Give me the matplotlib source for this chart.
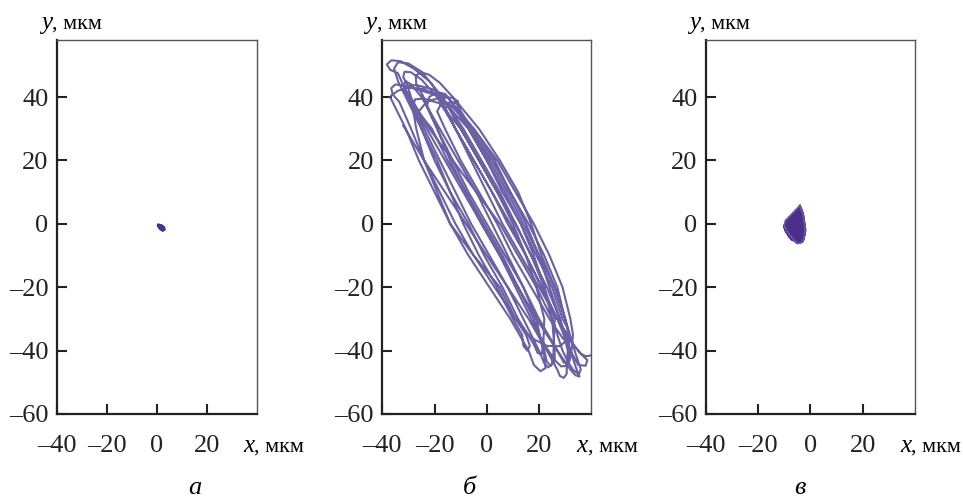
import numpy as np
import matplotlib.pyplot as plt

plt.rcParams['font.family'] = ['Liberation Serif', 'DejaVu Serif']

# panel a: almost no motion, a tiny knot near the origin
a_x = [0.6, 1.8, 2.7, 2.9, 2.2, 1.2, 0.7, 1.6, 2.6, 2.4, 1.4, 0.9]
a_y = [-0.4, -0.6, -1.1, -1.8, -2.0, -1.4, -0.8, -0.9, -1.5, -1.9, -1.2, -0.6]

# panel b: long back-and-forth orbit along the diagonal
b_x = [-32, -24, -16, -8, 0, 8, 16, 23, 27, 28, 29.5, 30.6, 30.6,
       31, 28, 23, 17, 11, 4, -3, -10, -17, -22, -28, -33, -36.5, -38.3, -37, -34,
       -30, -24, -18, -12, -6, 1, 8, 14, 20, 22, 23.5, 25, 25.5,
       26, 22, 17, 11, 5, -2, -9, -17, -25, -31, -35, -36.6, -36, -33.5,
       -29, -24, -18, -12, -5, 3, 11, 17, 23, 28, 30.5, 31,
       30, 27, 22, 16, 9, 2, -6, -11, -11, -13, -18, -23, -26.5,
       -23, -16, -9, -2, 5, 11, 17, 22, 26, 28.5, 30.5, 31.5,
       31.5, 30, 26, 20, 14, 8, 1, -6, -13, -18, -22, -25, -27.2, -27, -24.5,
       -19, -13, -7, 0, 7, 14, 20, 27, 32, 34, 35.5, 34.2,
       32, 27, 21, 15, 8, 2, -5, -12, -19, -25, -29, -31.5, -32, -30.5,
       -29, -27, -24, -19, -14, -5, 5, 11, 15, 16.5, 15.5, 14, 13.5,
       10, 4, -3, -9, -14, -19, -25, -31, -34, -35.5, -34, -30, -25, -21,
       -18, -12, -5, 2, 9, 15, 21, 27, 33, 36, 38.5, 37.8, 35,
       32, 28, 24, 20, 15, 9, 3, -5, -13, -16, -19.5, -22, -23,
       -19, -14, -8, -1, 6, 12, 18, 22, 23, 24.5, 26, 26,
       25, 22, 18, 13, 7, 0, -7, -15, -21, -27, -31, -32, -30,
       -25, -20, -14, -7, -1, 6, 12, 18, 19.5, 21, 21.6,
       22, 19, 15, 10, 4, -3, -10, -18, -24, -27.5, -28, -26,
       -21, -15, -8, -2, 5, 12, 19, 27, 29.5, 31.5, 32.3,
       33, 32, 29, 24, 18, 11, 4, -5, -11, -13.5, -15, -17.5, -19,
       -16, -10, -3, 4, 10, 17, 24, 29, 30.8, 31.6, 31,
       29, 25, 19, 13, 6, 0, -7, -18, -24, -30, -34, -36.5,
       -37, -31, -26, -20, -14, -7, 1, 9, 16, 18, 20.5, 22.5, 22,
       19, 14, 8, 2, -4, -11, -18, -25, -29, -31, -32, -30,
       -22, -13, -4, 5, 12, 19, 25, 29, 31, 33, 35.2,
       36, 34, 30, 26, 21, 17, 12, 5, -3, -9, -11, -14, -16,
       -12, -6, 0, 6, 13, 20, 27, 33, 36, 38, 40]
b_y = [31, 20, 10, 0, -10, -20, -30, -40, -46, -48, -48.6, -47.3, -44.5,
       -40, -30, -20, -10, 0, 10, 20, 30, 40, 45, 49, 51.3, 51.6, 50.3, 48.6, 47.5,
       40, 30, 20, 10, 0, -10, -20, -30, -40, -44, -45.3, -44.2, -41,
       -30, -20, -10, 0, 10, 20, 30, 40, 42, 43.5, 44, 42.8, 40.8, 38.5,
       30, 20, 10, 0, -10, -20, -30, -36, -38.5, -38.6, -36.8, -33.5,
       -30, -20, -10, 0, 10, 20, 30, 36, 38.6, 39.8, 39.8, 38.5, 35,
       30, 20, 10, 0, -10, -20, -30, -38, -43, -45, -44.8, -42.5,
       -35, -30, -20, -10, 0, 10, 20, 30, 40, 44.5, 47, 47.8, 46.8, 44, 40.5,
       30, 20, 10, 0, -10, -20, -30, -40, -46, -47.8, -48.2, -45.5,
       -40, -30, -20, -10, 0, 10, 20, 30, 40, 45.5, 47.8, 48, 46.3, 44,
       40, 30, 20, 10, 0, -10, -20, -30, -35, -38.5, -40, -38.5, -35,
       -30, -20, -10, 0, 10, 20, 30, 40, 45, 49, 51, 50.6, 48, 44,
       40, 30, 20, 10, 0, -10, -20, -30, -38, -41, -43, -44.8, -44.5,
       -40, -30, -20, -10, 0, 10, 20, 30, 38, 41, 41.5, 40, 37,
       30, 20, 10, 0, -10, -20, -30, -40, -43.5, -44.8, -43, -40,
       -30, -20, -10, 0, 10, 20, 30, 40, 42.5, 43.8, 43.5, 42, 39.8,
       30, 20, 10, 0, -10, -20, -30, -38, -40.8, -41, -39,
       -30, -20, -10, 0, 10, 20, 30, 38, 39.5, 39.3, 37.5, 35,
       30, 20, 10, 0, -10, -20, -30, -40, -43.8, -43.8, -41,
       -35, -30, -20, -10, 0, 10, 20, 30, 35, 37, 38.2, 37.8, 35.5,
       30, 20, 10, 0, -10, -20, -30, -36, -37.5, -36, -33,
       -30, -20, -10, 0, 10, 20, 30, 40, 42.5, 43, 42, 40.5,
       40, 30, 20, 10, 0, -10, -20, -30, -40, -44.5, -46.5, -45.5, -42,
       -30, -20, -10, 0, 10, 20, 30, 40, 44, 45, 43.5, 41,
       30, 20, 10, 0, -10, -20, -30, -40, -43.5, -46, -47.5,
       -46, -41, -30, -20, -10, 0, 10, 20, 30, 36, 38, 38.5, 36.5,
       30, 20, 10, 0, -10, -20, -30, -38, -41, -41.8, -41.5]

# panel c: small dense blob left of the origin
c_edge_x = [-4, -2.8, -2.2, -2.0, -2.6, -3.5, -5, -7, -9, -10, -9.6, -7.5, -5.5]
c_edge_y = [5.8, 3, 0, -2.5, -5, -6, -6.2, -4.5, -2.2, -0.6, 1, 2.8, 4.5]
c_x = [-4, -3, -2.5, -2.2, -3, -5, -8, -10, -9, -6, -4, -3, -2.5, -4.5, -7,
       -9.5, -8, -5, -3, -2, -2.8, -4, -6, -9, -9.8, -7.5, -5, -3.5, -4.2,
       -6.5, -8.5, -6, -3.2, -2.4, -3.5, -5.5, -7.5, -8.8, -6.8, -4.5, -3.8]
c_y = [5.5, 3, 0, -3, -5.5, -6, -4, -1, 1, 3, 5, 2, -1, -4.5, -5, -2, 0.5,
       2, 3.5, -2, -5, -5.8, -5.2, -2.5, -0.5, 2.2, 4, 4.5, 1, -2, -3, -4.8,
       -4, -1, 2, 3, 1, -1.5, -3.5, -5, -3]

xticks = [-40, -20, 0, 20]
yticks = [-60, -40, -20, 0, 20, 40]
panels = ['а', 'б', 'в']
color = '#5a4f9c'
blob = '#4a2f8c'

fig = plt.figure(figsize=(9.63, 5), dpi=100)
lefts = [0.059, 0.397, 0.733]
widths = [0.208, 0.217, 0.217]
sub_x = [0.2025, 0.488, 0.831]


def fmt(v):
    return '\u2013' + str(-v) if v < 0 else str(v)


for i in range(3):
    ax = fig.add_axes([lefts[i], 0.172, widths[i], 0.748])
    if i == 0:
        ax.plot(a_x, a_y, color=blob, lw=2.2, solid_joinstyle='round')
    elif i == 1:
        ax.plot(b_x, b_y, color=color, lw=1.5, alpha=0.9,
                solid_joinstyle='round')
    else:
        ax.fill(c_edge_x, c_edge_y, color=blob, lw=0)
        ax.plot(c_x, c_y, color=blob, lw=2.0, solid_joinstyle='round')
        ax.plot(c_edge_x + c_edge_x[:1], c_edge_y + c_edge_y[:1],
                color='#6a5aa8', lw=1.2)
    ax.set_xlim(-40, 40)
    ax.set_ylim(-60, 58)
    ax.set_xticks(xticks)
    ax.set_yticks(yticks)
    ax.set_xticklabels([fmt(v) for v in xticks])
    ax.set_yticklabels([fmt(v) for v in yticks])
    ax.tick_params(direction='in', length=7, width=1.5, labelsize=19,
                   colors='#222222')
    ax.tick_params(axis='x', pad=15)
    ax.tick_params(axis='y', pad=6)
    for s in ['left', 'bottom']:
        ax.spines[s].set_linewidth(1.6)
        ax.spines[s].set_color('#222222')
    for s in ['top', 'right']:
        ax.spines[s].set_linewidth(1.0)
        ax.spines[s].set_color('#555555')

    t = ax.text(-0.08, 1.046, 'y', style='italic', fontsize=18,
                transform=ax.transAxes, va='center', ha='left')
    ax.annotate(', мкм', xy=(1, 0.45), xycoords=t, va='center', ha='left',
                fontsize=16)
    t = ax.text(0.93, -0.086, 'x', style='italic', fontsize=18,
                transform=ax.transAxes, va='center', ha='left')
    ax.annotate(', мкм', xy=(1, 0.45), xycoords=t, va='center', ha='left',
                fontsize=16)
    fig.text(sub_x[i], 0.025, panels[i], style='italic', fontsize=19,
             ha='center', va='center')

plt.savefig('out.png', dpi=100)
